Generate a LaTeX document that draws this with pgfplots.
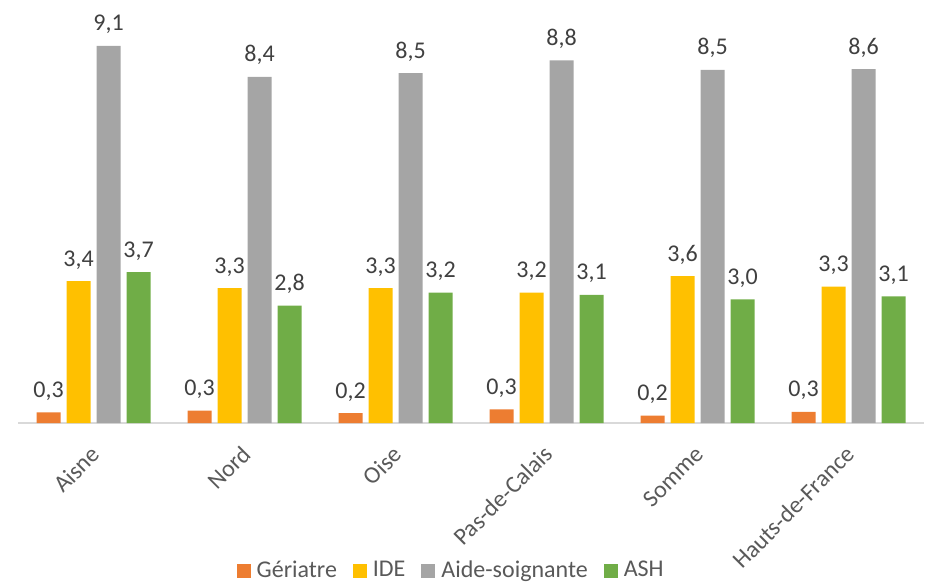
\documentclass[border=0pt]{standalone}
\usepackage{pgfplots}
\pgfplotsset{compat=1.18}
\usepackage{fontspec}
\setmainfont{Carlito}
\usepackage{xcolor}
\definecolor{geria}{HTML}{ED7D31}
\definecolor{ide}{HTML}{FFC000}
\definecolor{aide}{HTML}{A5A5A5}
\definecolor{ash}{HTML}{70AD47}
\definecolor{txt}{HTML}{404040}
\definecolor{txtl}{HTML}{595959}
\definecolor{axl}{HTML}{D9D9D9}

\begin{document}
\begin{tikzpicture}
\begin{axis}[
  scale only axis,
  width=906pt, height=413.5pt,
  xmin=-0.5, xmax=5.5,
  ymin=0, ymax=10,
  axis x line=bottom, axis y line=none,
  x axis line style={draw=axl, line width=1.5pt, -},
  xtick={0,1,2,3,4,5},
  xticklabels={Aisne,Nord,Oise,Pas-de-Calais,Somme,Hauts-de-France},
  xtick style={draw=none},
  x tick label style={yshift=-23pt, xshift=2pt, rotate=45, anchor=east, inner sep=0pt},
  ytick=\empty,
  font=\fontsize{24}{28}\selectfont,
  every tick label/.append style={text=txtl},
  ybar, bar width=24pt,
  nodes near coords,
  every node near coord/.append style={text=txt, anchor=base, yshift=15pt, inner sep=0pt,
    /pgf/number format/.cd, fixed, fixed zerofill, precision=1, use comma, assume math mode=true},
  clip=false,
  legend columns=4,
  legend style={at={(0.477,-0.355)}, anchor=center, draw=none, fill=none,
    text=txtl, font=\fontsize{24}{28}\selectfont, inner sep=0pt,
    nodes={inner sep=0pt},
    /tikz/every odd column/.append style={column sep=6pt},
    /tikz/every even column/.append style={column sep=16pt}},
  legend image code/.code={\fill[#1, draw=none] (0pt,-8pt) rectangle (14pt,6pt);},
]
\addplot[fill=geria, draw=none, bar shift=-45pt] coordinates {(0,0.26) (1,0.30) (2,0.24) (3,0.33) (4,0.18) (5,0.27)};
\addplot[fill=ide, draw=none, bar shift=-15pt] coordinates {(0,3.43) (1,3.26) (2,3.26) (3,3.15) (4,3.55) (5,3.30)};
\addplot[fill=aide, draw=none, bar shift=15pt] coordinates {(0,9.12) (1,8.37) (2,8.46) (3,8.77) (4,8.54) (5,8.56)};
\addplot[fill=ash, draw=none, bar shift=45pt] coordinates {(0,3.65) (1,2.84) (2,3.15) (3,3.10) (4,2.99) (5,3.06)};
\legend{Gériatre, IDE, Aide-soignante, ASH}
\end{axis}
\pgfresetboundingbox
\useasboundingbox (-18pt,-161pt) rectangle (908pt,423pt);
\end{tikzpicture}
\end{document}
